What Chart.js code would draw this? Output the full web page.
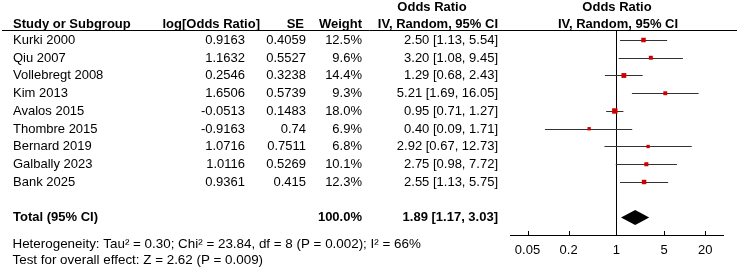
<!DOCTYPE html>
<html>
<head>
<meta charset="utf-8">
<script src="https://cdn.jsdelivr.net/npm/chart.js@4/dist/chart.umd.min.js"></script>
<style>
  html, body { margin: 0; padding: 0; background: #fff; }
  #forest { display: block; }
</style>
</head>
<body>
<canvas id="forest" width="737" height="267"></canvas>
<script>
// study rows
const studies = ['Kurki 2000', 'Qiu 2007', 'Vollebregt 2008', 'Kim 2013', 'Avalos 2015',
  'Thombre 2015', 'Bernard 2019', 'Galbally 2023', 'Bank 2025'];
const logOR = ['0.9163', '1.1632', '0.2546', '1.6506', '-0.0513', '-0.9163', '1.0716', '1.0116', '0.9361'];
const se = ['0.4059', '0.5527', '0.3238', '0.5739', '0.1483', '0.74', '0.7511', '0.5269', '0.415'];
const weights = [12.5, 9.6, 14.4, 9.3, 18.0, 6.9, 6.8, 10.1, 12.3];
const oddsRatio = [2.50, 3.20, 1.29, 5.21, 0.95, 0.40, 2.92, 2.75, 2.55];
const ciLow = [1.13, 1.08, 0.68, 1.69, 0.71, 0.09, 0.67, 0.98, 1.13];
const ciHigh = [5.54, 9.45, 2.43, 16.05, 1.27, 1.71, 12.73, 7.72, 5.75];

// pooled result
const totalOR = 1.89;
const totalLow = 1.17;
const totalHigh = 3.03;
const totalWeight = 100.0;
const heterogeneity = 'Heterogeneity: Tau² = 0.30; Chi² = 23.84, df = 8 (P = 0.002); I² = 66%';
const overallTest = 'Test for overall effect: Z = 2.62 (P = 0.009)';

// x axis ticks
const tickValues = [0.05, 0.2, 1, 5, 20];

const totalRow = 10;
const FONT = '"Liberation Sans", Arial, sans-serif';

const fmtCI = (o, l, h) => o.toFixed(2) + ' [' + l.toFixed(2) + ', ' + h.toFixed(2) + ']';

const forestPlugin = {
  id: 'forest',
  beforeDatasetsDraw(chart) {
    const { ctx, chartArea, scales: { x, y } } = chart;
    ctx.save();
    // line of no effect
    const x1 = Math.round(x.getPixelForValue(1)) + 0.5;
    ctx.strokeStyle = '#000';
    ctx.lineWidth = 1;
    ctx.beginPath();
    ctx.moveTo(x1, chartArea.top);
    ctx.lineTo(x1, chartArea.bottom);
    ctx.stroke();

    // confidence intervals
    ctx.strokeStyle = '#333';
    studies.forEach((s, i) => {
      const py = Math.round(y.getPixelForValue(i)) + 0.5;
      ctx.beginPath();
      ctx.moveTo(x.getPixelForValue(ciLow[i]), py);
      ctx.lineTo(x.getPixelForValue(ciHigh[i]), py);
      ctx.stroke();
    });

    // pooled diamond
    const dy = y.getPixelForValue(totalRow);
    ctx.fillStyle = '#000';
    ctx.beginPath();
    ctx.moveTo(x.getPixelForValue(totalLow), dy);
    ctx.lineTo(x.getPixelForValue(totalOR), dy - 7.5);
    ctx.lineTo(x.getPixelForValue(totalHigh), dy);
    ctx.lineTo(x.getPixelForValue(totalOR), dy + 7.5);
    ctx.closePath();
    ctx.fill();
    ctx.restore();
  },
  afterDraw(chart) {
    const { ctx, chartArea, scales: { x, y } } = chart;
    ctx.save();
    ctx.fillStyle = '#000';
    ctx.strokeStyle = '#000';
    ctx.lineWidth = 1;

    // tick marks point up into the plot
    tickValues.forEach(v => {
      const px = Math.round(x.getPixelForValue(v)) + 0.5;
      ctx.beginPath();
      ctx.moveTo(px, chartArea.bottom);
      ctx.lineTo(px, chartArea.bottom - 4);
      ctx.stroke();
    });

    // header rule
    ctx.beginPath();
    ctx.moveTo(2, 30.5);
    ctx.lineTo(737, 30.5);
    ctx.stroke();

    // headers
    ctx.font = 'bold 13px ' + FONT;
    ctx.textBaseline = 'alphabetic';
    ctx.textAlign = 'left';
    ctx.fillText('Study or Subgroup', 13, 28);
    ctx.textAlign = 'right';
    ctx.fillText('log[Odds Ratio]', 260, 28);
    ctx.fillText('SE', 304, 28);
    ctx.fillText('Weight', 362, 28);
    ctx.fillText('IV, Random, 95% CI', 498, 28);
    ctx.textAlign = 'center';
    ctx.fillText('Odds Ratio', 432, 10.5);
    ctx.fillText('Odds Ratio', 617, 10.5);
    ctx.fillText('IV, Random, 95% CI', 618, 28);

    // study rows
    ctx.font = '13px ' + FONT;
    studies.forEach((s, i) => {
      const by = y.getPixelForValue(i) + 4;
      ctx.textAlign = 'left';
      ctx.fillText(s, 13, by);
      ctx.textAlign = 'right';
      ctx.fillText(logOR[i], 245, by);
      ctx.fillText(se[i], 306, by);
      ctx.fillText(weights[i].toFixed(1) + '%', 362, by);
      ctx.fillText(fmtCI(oddsRatio[i], ciLow[i], ciHigh[i]), 498, by);
    });

    // total row
    const ty = y.getPixelForValue(totalRow) + 4;
    ctx.font = 'bold 13px ' + FONT;
    ctx.textAlign = 'left';
    ctx.fillText('Total (95% CI)', 13, ty);
    ctx.textAlign = 'right';
    ctx.fillText(totalWeight.toFixed(1) + '%', 362, ty);
    ctx.fillText(fmtCI(totalOR, totalLow, totalHigh), 498, ty);

    // footnotes
    ctx.font = '13.4px ' + FONT;
    ctx.textAlign = 'left';
    ctx.fillText(heterogeneity, 12.5, 247.5);
    ctx.fillText(overallTest, 12.5, 263.5);
    ctx.restore();
  }
};

new Chart(document.getElementById('forest'), {
  type: 'scatter',
  data: {
    datasets: [{
      data: oddsRatio.map((v, i) => ({ x: v, y: i })),
      pointStyle: 'rect',
      backgroundColor: '#cc0000',
      borderWidth: 0,
      pointRadius: weights.map(w => 0.9 * Math.sqrt(w)),
      pointHoverRadius: weights.map(w => 0.9 * Math.sqrt(w))
    }]
  },
  options: {
    responsive: false,
    devicePixelRatio: 1,
    animation: false,
    layout: { padding: { left: 510, right: 14, top: 30, bottom: 0 } },
    plugins: { legend: { display: false }, tooltip: { enabled: false } },
    scales: {
      x: {
        type: 'logarithmic',
        min: 0.0277,
        max: 36.5,
        afterBuildTicks: s => { s.ticks = tickValues.map(v => ({ value: v })); },
        afterFit: s => { s.height = 32; },
        grid: { display: false, drawTicks: false },
        border: { display: true, color: '#000', width: 1 },
        ticks: {
          autoSkip: false,
          maxRotation: 0,
          padding: 8,
          color: '#000',
          font: { family: FONT, size: 13 },
          callback: v => String(v)
        }
      },
      y: {
        type: 'linear',
        reverse: true,
        min: -0.563,
        max: 10.986,
        display: false
      }
    }
  },
  plugins: [forestPlugin]
});
</script>
</body>
</html>
